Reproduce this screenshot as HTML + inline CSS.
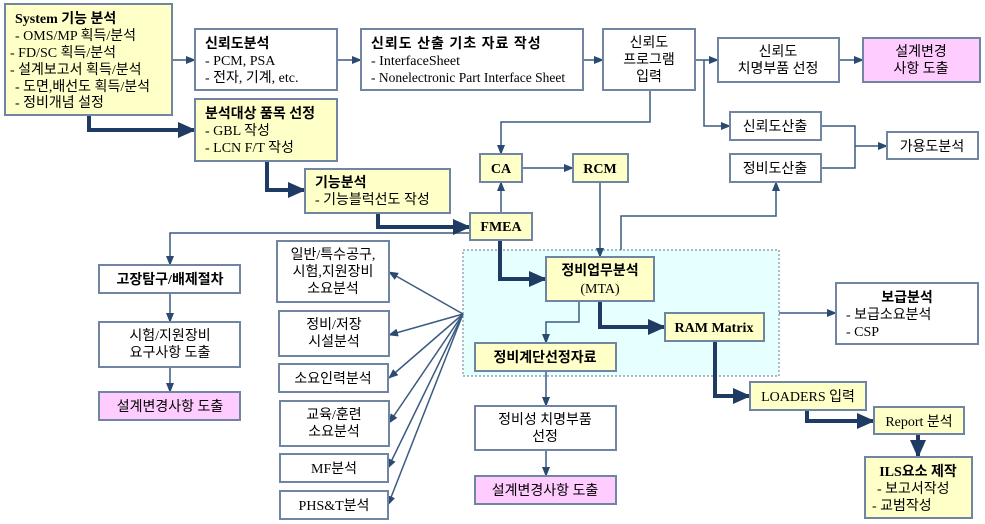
<!DOCTYPE html>
<html><head><meta charset="utf-8"><style>
body{margin:0;background:#fff}
svg{display:block}
text{font-family:"Liberation Serif","Noto Sans CJK KR",serif;font-size:14px;fill:#000}
.s{font-size:13.5px}
.b{font-weight:bold}
.bx{stroke:#6f85a3;stroke-width:2}
.y{fill:#ffffc8}.w{fill:#fff}.p{fill:#ffccff}
.t{stroke:#3b5a80;stroke-width:1.5;fill:none}
.k{stroke:#1f3b63;stroke-width:4;fill:none}
</style></head><body>
<svg width="985" height="524" viewBox="0 0 985 524" xmlns="http://www.w3.org/2000/svg">
<defs>
<marker id="a" markerWidth="10" markerHeight="8" refX="9" refY="4" orient="auto" markerUnits="userSpaceOnUse"><path d="M0,0 L10,4 L0,8 z" fill="#2a4a72"/></marker>
<marker id="A" markerWidth="18" markerHeight="16" refX="17" refY="8" orient="auto" markerUnits="userSpaceOnUse"><path d="M0,0 L18,8 L0,16 z" fill="#1f3b63"/></marker>
</defs>
<rect x="463" y="250" width="316" height="126" fill="#e6ffff" stroke="#7a90a8" stroke-width="1.2" stroke-dasharray="2,2"/>

<line class="t" x1="172" y1="60" x2="195" y2="60" marker-end="url(#a)"/>
<line class="t" x1="337" y1="60" x2="361" y2="60" marker-end="url(#a)"/>
<line class="t" x1="583" y1="60" x2="603" y2="60" marker-end="url(#a)"/>
<line class="t" x1="695" y1="60" x2="718" y2="60" marker-end="url(#a)"/>
<line class="t" x1="839" y1="60" x2="863" y2="60" marker-end="url(#a)"/>
<polyline class="t" points="704,60 704,126 730,126" marker-end="url(#a)"/>
<polyline class="t" points="650,90 650,122 501,122 501,154" marker-end="url(#a)"/>
<line class="t" x1="501" y1="212" x2="501" y2="182" marker-end="url(#a)"/>
<line class="t" x1="522" y1="168" x2="573" y2="168" marker-end="url(#a)"/>
<line class="t" x1="600" y1="182" x2="600" y2="257" marker-end="url(#a)"/>
<polyline class="t" points="621,250 621,216 776,216 776,182" marker-end="url(#a)"/>
<polyline class="t" points="821,126 855,126 855,168 821,168"/>
<line class="t" x1="855" y1="146" x2="887" y2="146" marker-end="url(#a)"/>
<polyline class="t" points="470,233 170,233 170,265" marker-end="url(#a)"/>
<line class="t" x1="170" y1="293" x2="170" y2="322" marker-end="url(#a)"/>
<line class="t" x1="170" y1="367" x2="170" y2="392" marker-end="url(#a)"/>
<polyline class="t" points="579,301 579,322 546,322 546,343" marker-end="url(#a)"/>
<line class="t" x1="546" y1="371" x2="546" y2="406" marker-end="url(#a)"/>
<line class="t" x1="546" y1="450" x2="546" y2="476" marker-end="url(#a)"/>
<line class="t" x1="779" y1="313" x2="836" y2="313" marker-end="url(#a)"/>
<g class="t">
<line x1="463" y1="314" x2="389" y2="272" marker-end="url(#a)"/>
<line x1="463" y1="314" x2="389" y2="335" marker-end="url(#a)"/>
<line x1="463" y1="314" x2="389" y2="378" marker-end="url(#a)"/>
<line x1="463" y1="314" x2="389" y2="423" marker-end="url(#a)"/>
<line x1="463" y1="314" x2="388" y2="468" marker-end="url(#a)"/>
<line x1="463" y1="314" x2="388" y2="505" marker-end="url(#a)"/>
</g>
<polyline class="k" points="89,115 89,130 195,130" marker-end="url(#A)"/>
<polyline class="k" points="267,161 267,190 305,190" marker-end="url(#A)"/>
<polyline class="k" points="378,213 378,227 470,227" marker-end="url(#A)"/>
<polyline class="k" points="500,240 500,279 546,279" marker-end="url(#A)"/>
<polyline class="k" points="600,301 600,327 665,327" marker-end="url(#A)"/>
<polyline class="k" points="715,341 715,396 750,396" marker-end="url(#A)"/>
<polyline class="k" points="807,410 807,421 874,421" marker-end="url(#A)"/>
<line class="k" x1="918" y1="434" x2="918" y2="457" marker-end="url(#A)"/>

<rect class="bx y" x="5" y="4" width="167" height="111"/>
<text x="15" y="23" class="b">System 기능 분석</text>
<text x="15" y="40"> - OMS/MP 획득/분석</text>
<text x="10" y="57">- FD/SC 획득/분석</text>
<text x="10" y="74">- 설계보고서 획득/분석</text>
<text x="15" y="91"> - 도면,배선도 획득/분석</text>
<text x="15" y="107"> - 정비개념 설정</text>

<rect class="bx w" x="195" y="29" width="142" height="61"/>
<text x="205" y="48" class="b">신뢰도분석</text>
<text x="205" y="65">- PCM, PSA</text>
<text x="205" y="82">- 전자, 기계, etc.</text>

<rect class="bx w" x="361" y="29" width="222" height="61"/>
<text x="371" y="48" class="b" letter-spacing="1">신뢰도 산출 기초 자료 작성</text>
<text x="371" y="65">- InterfaceSheet</text>
<text x="371" y="82" class="s">- Nonelectronic Part Interface Sheet</text>

<rect class="bx w" x="603" y="29" width="92" height="61"/>
<g text-anchor="middle"><text x="649" y="47">신뢰도</text><text x="649" y="64">프로그램</text><text x="649" y="81">입력</text></g>

<rect class="bx w" x="718" y="38" width="121" height="44"/>
<g text-anchor="middle"><text x="778" y="56">신뢰도</text><text x="778" y="73">치명부품 선정</text></g>

<rect class="bx p" x="863" y="38" width="117" height="44"/>
<g text-anchor="middle"><text x="921" y="56">설계변경</text><text x="921" y="73">사항 도출</text></g>

<rect class="bx y" x="195" y="99" width="142" height="62"/>
<text x="205" y="118" class="b">분석대상 품목 선정</text>
<text x="205" y="135">- GBL 작성</text>
<text x="205" y="152">- LCN F/T 작성</text>

<rect class="bx y" x="305" y="169" width="145" height="44"/>
<text x="315" y="187" class="b">기능분석</text>
<text x="315" y="204">- 기능블럭선도 작성</text>

<rect class="bx y" x="470" y="213" width="62" height="27"/>
<text x="501" y="231" class="b" text-anchor="middle">FMEA</text>

<rect class="bx y" x="480" y="154" width="42" height="28"/>
<text x="501" y="173" class="b" text-anchor="middle">CA</text>
<rect class="bx y" x="573" y="154" width="55" height="28"/>
<text x="600" y="173" class="b" text-anchor="middle">RCM</text>

<rect class="bx w" x="730" y="112" width="91" height="28"/>
<text x="775" y="131" text-anchor="middle">신뢰도산출</text>
<rect class="bx w" x="730" y="154" width="91" height="28"/>
<text x="775" y="173" text-anchor="middle">정비도산출</text>
<rect class="bx w" x="887" y="132" width="91" height="27"/>
<text x="932" y="151" text-anchor="middle">가용도분석</text>

<rect class="bx y" x="546" y="257" width="108" height="44"/>
<g text-anchor="middle"><text x="600" y="275" class="b">정비업무분석</text><text x="600" y="293">(MTA)</text></g>

<rect class="bx y" x="665" y="313" width="99" height="28"/>
<text x="714" y="332" class="b" text-anchor="middle">RAM Matrix</text>

<rect class="bx y" x="475" y="343" width="141" height="28"/>
<text x="545" y="362" class="b" text-anchor="middle">정비계단선정자료</text>

<rect class="bx w" x="836" y="283" width="142" height="61"/>
<text x="907" y="302" class="b" text-anchor="middle">보급분석</text>
<text x="846" y="319">- 보급소요분석</text>
<text x="846" y="336">- CSP</text>

<rect class="bx w" x="475" y="406" width="141" height="44"/>
<g text-anchor="middle"><text x="545" y="424">정비성 치명부품</text><text x="545" y="441">선정</text></g>

<rect class="bx p" x="475" y="476" width="141" height="28"/>
<text x="545" y="495" text-anchor="middle">설계변경사항 도출</text>

<rect class="bx y" x="750" y="382" width="116" height="28"/>
<text x="808" y="401" text-anchor="middle">LOADERS 입력</text>
<rect class="bx y" x="874" y="407" width="90" height="27"/>
<text x="919" y="426" text-anchor="middle">Report 분석</text>

<rect class="bx y" x="865" y="457" width="107" height="61"/>
<text x="918" y="476" class="b" text-anchor="middle">ILS요소 제작</text>
<text x="877" y="493">- 보고서작성</text>
<text x="872" y="510">- 교범작성</text>

<rect class="bx w" x="99" y="265" width="141" height="28"/>
<text x="170" y="284" class="b" text-anchor="middle">고장탐구/배제절차</text>
<rect class="bx w" x="99" y="322" width="141" height="45"/>
<g text-anchor="middle"><text x="170" y="340">시험/지원장비</text><text x="170" y="357">요구사항 도출</text></g>
<rect class="bx p" x="99" y="392" width="141" height="28"/>
<text x="170" y="411" text-anchor="middle">설계변경사항 도출</text>

<rect class="bx w" x="277" y="241" width="112" height="61"/>
<g text-anchor="middle"><text x="333" y="259">일반/특수공구,</text><text x="333" y="276">시험,지원장비</text><text x="333" y="293">소요분석</text></g>
<rect class="bx w" x="279" y="311" width="110" height="45"/>
<g text-anchor="middle"><text x="334" y="329">정비/저장</text><text x="334" y="346">시설분석</text></g>
<rect class="bx w" x="279" y="364" width="109" height="28"/>
<text x="333" y="383" text-anchor="middle">소요인력분석</text>
<rect class="bx w" x="280" y="401" width="109" height="45"/>
<g text-anchor="middle"><text x="334" y="419">교육/훈련</text><text x="334" y="436">소요분석</text></g>
<rect class="bx w" x="280" y="454" width="108" height="28"/>
<text x="334" y="473" text-anchor="middle">MF분석</text>
<rect class="bx w" x="280" y="491" width="108" height="28"/>
<text x="334" y="510" text-anchor="middle">PHS&amp;T분석</text>
</svg>
</body></html>
